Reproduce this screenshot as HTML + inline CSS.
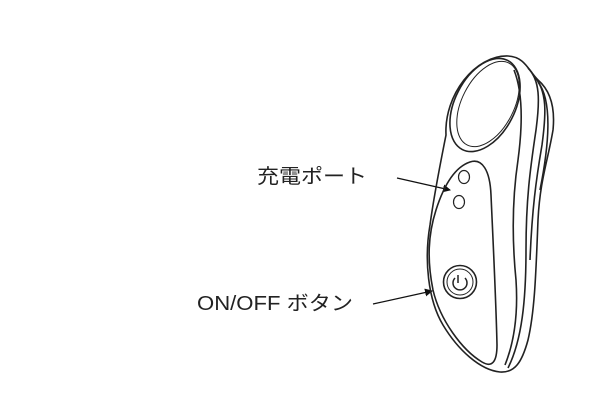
<!DOCTYPE html>
<html><head><meta charset="utf-8"><style>
html,body{margin:0;padding:0;background:#fff;width:600px;height:400px;overflow:hidden}
svg{display:block}
text{font-family:"Liberation Sans","Noto Sans CJK JP",sans-serif;fill:#222}
</style></head><body>
<svg width="600" height="400" viewBox="0 0 600 400" xmlns="http://www.w3.org/2000/svg">
<defs><marker id="a" markerWidth="8" markerHeight="8" refX="7" refY="4" orient="auto" markerUnits="userSpaceOnUse"><path d="M0,0 L8,4 L0,8 Z" fill="#111"/></marker></defs>
<text x="257" y="183" font-size="20" textLength="110" lengthAdjust="spacingAndGlyphs">充電ポート</text>
<text x="197" y="310" font-size="20" textLength="156" lengthAdjust="spacingAndGlyphs">ON/OFF ボタン</text>
<line x1="397" y1="178" x2="450" y2="190" stroke="#111" stroke-width="1.3" marker-end="url(#a)"/>
<line x1="373" y1="304" x2="432" y2="291" stroke="#111" stroke-width="1.3" marker-end="url(#a)"/>
<g fill="none" stroke="#222" stroke-width="1.6">
<path d="M446,135 C444,95 475,55 508,56 C525,57 528,70 538,80 C552,92 555,110 553,130 C548,160 540,180 538,220 C536,270 535,310 528,340 C522,362 515,373 500,372 C480,370 458,350 443,325 C428,300 424,260 430,225 C434,195 440,165 446,135 Z"/>
<path d="M528,68 C540,80 540,100 536,130 C530,170 526,200 526,250 C526,300 522,340 508,368"/>
<path d="M533,75 C548,90 546,115 542,145 C536,180 532,210 530,260"/>
<path d="M514,70 C524,95 522,130 518,160 C512,200 512,240 516,280 C518,310 515,340 505,365"/>
<path d="M538,82 C552,100 550,140 540,190"/>
<ellipse cx="485" cy="105" rx="30" ry="50" transform="rotate(27 485 105)"/>
<ellipse cx="488" cy="104" rx="26" ry="46" transform="rotate(27 488 104)" stroke-width="1"/>
<path d="M470,162 C482,158 490,170 491,195 C493,240 496,300 497,345 C497,362 492,368 482,362 C462,350 440,320 433,290 C427,260 428,235 436,210 C444,185 455,167 470,162 Z"/>
<ellipse cx="464" cy="177" rx="5.5" ry="6.5" stroke-width="1.2"/>
<ellipse cx="459" cy="202" rx="5.5" ry="6.5" stroke-width="1.2"/>
<circle cx="460" cy="282" r="16.5"/>
<circle cx="460" cy="282" r="13" stroke-width="1"/>
<path d="M455,278 A7,7 0 1 0 465,278" stroke-width="1.5"/>
<line x1="458" y1="275" x2="458" y2="283" stroke-width="1.5"/>
</g>
</svg>
</body></html>
